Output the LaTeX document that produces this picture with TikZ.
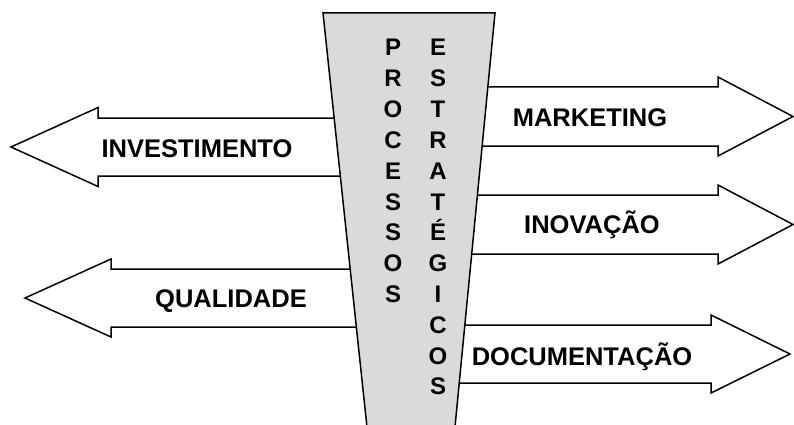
\documentclass[tikz,border=0pt]{standalone}
\usepackage{fontspec}
\setmainfont{Liberation Sans}
\definecolor{cinza}{RGB}{218,218,218}

\begin{document}
\begin{tikzpicture}[x=1pt,y=-1pt,
seta/.style={draw,fill=white,line width=1.5pt},
funil/.style={draw,fill=cinza,line width=1.5pt},
rotulo/.style={font=\fontsize{25.5}{30}\bfseries\selectfont,
anchor=base,inner sep=0pt},
letra/.style={font=\fontsize{24}{28}\bfseries\selectfont,
anchor=base,inner sep=0pt}]
\useasboundingbox (0,0) rectangle (794,425);
% setas para a esquerda
\draw[seta] (360,118) -- (98,118) -- (98,107.5) -- (11,147) -- (98,186.5) -- (98,176) -- (360,176) -- cycle;
\draw[seta] (360,269) -- (111,269) -- (111,259) -- (25,298) -- (111,337) -- (111,327) -- (360,327) -- cycle;
% setas para a direita
\draw[seta] (440,87) -- (718,87) -- (718,77) -- (793,116.5) -- (718,156) -- (718,146) -- (440,146) -- cycle;
\draw[seta] (440,195) -- (718,195) -- (718,185) -- (793,224.5) -- (718,264) -- (718,254) -- (440,254) -- cycle;
\draw[seta] (440,325) -- (711,325) -- (711,315) -- (790,354) -- (711,393) -- (711,383) -- (440,383) -- cycle;
% funil central
\draw[funil] (367.5,432) -- (323,13) -- (495,13) -- (454.5,432) -- cycle;
\foreach \l [count=\i] in {P,R,O,C,E,S,S,O,S}
  \node[letra] (p\i) at (393,{56+30.8*(\i-1)}) {\l};
\foreach \l [count=\i] in {E,S,T,R,A,T,É,G,I,C,O,S}
  \node[letra] (e\i) at (438,{56+30.8*(\i-1)}) {\l};
% rotulos
\node[rotulo] (invest) at (197,157) {INVESTIMENTO};
\node[rotulo] (qualid) at (231,307.5) {QUALIDADE};
\node[rotulo] (market) at (590,126.5) {MARKETING};
\node[rotulo] (inova) at (592,233.5) {INOVAÇÃO};
\node[rotulo] (docum) at (582,365) {DOCUMENTAÇÃO};
\end{tikzpicture}
\end{document}
